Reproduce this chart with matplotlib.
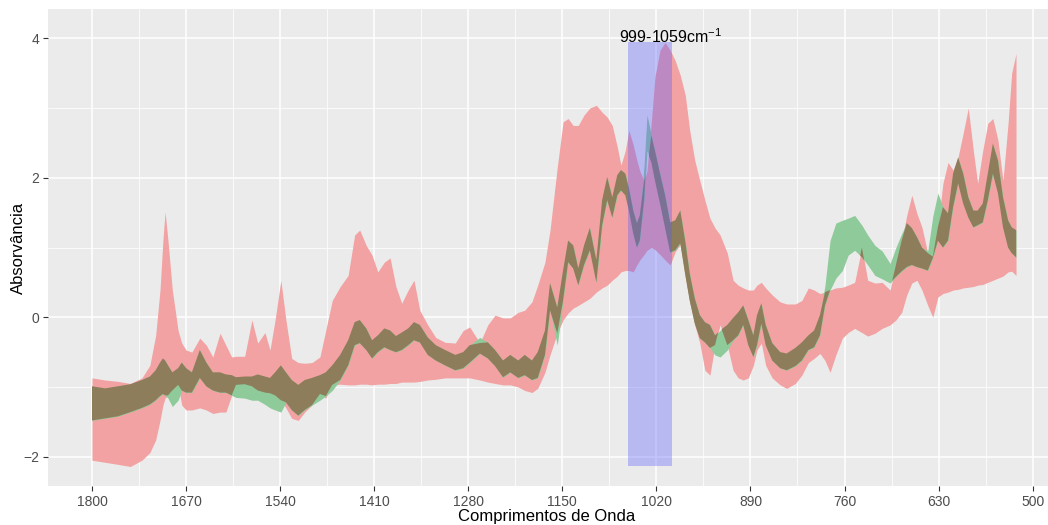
import numpy as np
import matplotlib
matplotlib.use("Agg")
import matplotlib.pyplot as plt

plt.rcParams['font.family'] = ['Liberation Sans', 'DejaVu Sans']
plt.rcParams['mathtext.default'] = 'regular'

# wavenumbers (cm-1)
wavenumber = [1800, 1782, 1764, 1747, 1731, 1720, 1712, 1706, 1702, 1699,
              1695, 1689, 1681, 1676, 1670, 1662, 1651, 1642, 1633, 1623,
              1615, 1607, 1601, 1589, 1579, 1571, 1561, 1554, 1547, 1539,
              1532, 1524, 1515, 1506, 1496, 1485, 1477, 1468, 1457, 1446,
              1437, 1430, 1421, 1413, 1405, 1396, 1388, 1380, 1372, 1363,
              1355, 1347, 1336, 1325, 1312, 1298, 1287, 1278, 1264, 1253,
              1243, 1232, 1222, 1211, 1202, 1192, 1184, 1174, 1167, 1157,
              1149, 1142, 1135, 1128, 1120, 1112, 1103, 1095, 1088, 1081,
              1074, 1069, 1063, 1058, 1052, 1047, 1043, 1037, 1033, 1027,
              1022, 1015, 1008, 1001, 994, 987, 980, 974, 967, 960,
              953, 946, 939, 932, 922, 914, 907, 900, 893, 886,
              881, 875, 869, 860, 849, 840, 828, 819, 810, 802,
              794, 787, 780, 772, 763, 755, 746, 736, 728, 718,
              708, 697, 689, 681, 674, 667, 660, 653, 645, 638,
              631, 624, 617, 610, 603, 596, 589, 582, 576, 569,
              562, 555, 548, 541, 534, 529, 523]

# red ribbon (lower / upper)
red_hi = [-0.87, -0.90, -0.92, -0.95, -0.87, -0.69, -0.26, 0.39, 1.10, 1.51,
          1.10, 0.39, -0.19, -0.37, -0.47, -0.50, -0.30, -0.40, -0.57, -0.23,
          -0.40, -0.57, -0.56, -0.56, -0.04, -0.37, -0.22, -0.47, -0.04, 0.53,
          -0.04, -0.59, -0.65, -0.66, -0.65, -0.57, -0.19, 0.24, 0.44, 0.60,
          1.18, 1.25, 1.03, 0.89, 0.65, 0.79, 0.85, 0.44, 0.20, 0.39,
          0.53, 0.10, -0.11, -0.29, -0.36, -0.37, -0.19, -0.14, -0.37, -0.11,
          0.03, -0.01, -0.01, 0.07, 0.10, 0.22, 0.46, 0.79, 1.25, 2.15,
          2.80, 2.85, 2.75, 2.75, 2.90, 3.00, 3.04, 2.94, 2.87, 2.75,
          2.44, 2.18, 2.39, 2.68, 2.47, 2.25, 2.10, 1.95, 2.10, 2.80,
          3.45, 3.83, 3.94, 3.83, 3.68, 3.47, 3.18, 2.68, 2.25, 1.96,
          1.68, 1.42, 1.28, 1.18, 0.92, 0.53, 0.46, 0.42, 0.39, 0.39,
          0.46, 0.50, 0.42, 0.32, 0.22, 0.19, 0.19, 0.24, 0.42, 0.39,
          0.34, 0.36, 0.39, 0.42, 0.43, 0.46, 0.50, 1.00, 0.53, 0.49,
          0.50, 0.39, 0.75, 1.10, 1.46, 1.75, 1.49, 1.29, 0.92, 0.87,
          1.29, 1.92, 2.22, 2.11, 2.30, 2.64, 3.00, 2.39, 1.92, 2.39,
          2.78, 2.85, 2.54, 1.96, 2.78, 3.50, 3.78]
red_lo = [-2.05, -2.08, -2.11, -2.14, -2.05, -1.94, -1.76, -1.48, -1.26, -1.16,
          -1.12, -1.05, -0.97, -1.26, -1.33, -1.33, -1.30, -1.33, -1.38, -1.36,
          -1.36, -1.12, -0.97, -0.96, -0.99, -1.05, -1.08, -1.09, -1.12, -1.19,
          -1.30, -1.45, -1.48, -1.36, -1.26, -1.10, -1.16, -0.97, -0.96, -0.97,
          -0.97, -0.96, -0.96, -0.97, -0.96, -0.96, -0.95, -0.95, -0.93, -0.93,
          -0.93, -0.92, -0.90, -0.89, -0.87, -0.87, -0.87, -0.87, -0.90, -0.93,
          -0.95, -0.97, -0.97, -1.00, -1.05, -1.08, -1.02, -0.79, -0.54, -0.23,
          -0.04, 0.06, 0.13, 0.17, 0.22, 0.27, 0.36, 0.42, 0.46, 0.53,
          0.59, 0.65, 0.67, 0.67, 0.65, 0.75, 0.82, 0.90, 0.96, 1.00,
          0.97, 0.90, 0.82, 0.75, 0.94, 1.04, 0.58, 0.22, -0.11, -0.37,
          -0.76, -0.83, -0.40, -0.11, -0.40, -0.76, -0.87, -0.90, -0.87, -0.69,
          -0.47, -0.37, -0.69, -0.87, -0.97, -1.02, -0.95, -0.83, -0.65, -0.59,
          -0.52, -0.62, -0.79, -0.54, -0.30, -0.22, -0.16, -0.22, -0.27, -0.23,
          -0.16, -0.11, -0.04, 0.07, 0.32, 0.49, 0.53, 0.39, 0.17, 0.00,
          0.29, 0.34, 0.36, 0.39, 0.40, 0.42, 0.43, 0.44, 0.46, 0.47,
          0.50, 0.53, 0.56, 0.59, 0.65, 0.66, 0.60]

# green ribbon (lower / upper)
green_hi = [-0.99, -1.02, -0.99, -0.96, -0.90, -0.85, -0.76, -0.65, -0.59, -0.62,
            -0.69, -0.79, -0.73, -0.65, -0.73, -0.79, -0.47, -0.65, -0.79, -0.79,
            -0.82, -0.83, -0.86, -0.85, -0.85, -0.82, -0.85, -0.87, -0.79, -0.69,
            -0.79, -0.90, -0.97, -0.90, -0.87, -0.83, -0.79, -0.69, -0.54, -0.33,
            -0.07, -0.04, -0.16, -0.33, -0.26, -0.16, -0.19, -0.27, -0.22, -0.16,
            -0.07, -0.11, -0.29, -0.40, -0.47, -0.54, -0.50, -0.40, -0.29, -0.36,
            -0.47, -0.62, -0.54, -0.62, -0.54, -0.62, -0.50, -0.19, 0.49, 0.14,
            0.67, 1.10, 1.03, 0.70, 1.03, 1.28, 0.82, 1.68, 2.01, 1.72,
            2.04, 2.11, 2.06, 1.85, 1.53, 1.35, 1.46, 2.18, 2.90, 2.61,
            2.39, 2.06, 1.75, 1.36, 1.39, 1.53, 1.08, 0.63, 0.27, 0.03,
            -0.07, -0.11, -0.26, -0.19, -0.11, -0.01, 0.07, 0.17, -0.04, -0.26,
            0.03, 0.20, -0.11, -0.37, -0.50, -0.52, -0.44, -0.36, -0.26, -0.19,
            0.03, 0.46, 1.10, 1.35, 1.39, 1.42, 1.46, 1.32, 1.18, 1.03,
            0.95, 0.77, 1.00, 1.20, 1.35, 1.28, 1.15, 1.00, 0.95, 1.45,
            1.78, 1.58, 1.49, 2.06, 2.29, 2.06, 1.72, 1.53, 1.53, 1.63,
            2.06, 2.49, 2.25, 1.72, 1.39, 1.29, 1.25]
green_lo = [-1.48, -1.45, -1.42, -1.36, -1.30, -1.25, -1.19, -1.13, -1.10, -1.12,
            -1.16, -1.28, -1.19, -1.05, -1.08, -1.08, -0.87, -0.99, -1.05, -1.08,
            -1.08, -1.12, -1.15, -1.16, -1.19, -1.19, -1.25, -1.30, -1.33, -1.36,
            -1.22, -1.33, -1.41, -1.33, -1.26, -1.19, -1.13, -1.05, -0.90, -0.69,
            -0.40, -0.37, -0.47, -0.59, -0.50, -0.43, -0.47, -0.50, -0.47, -0.40,
            -0.33, -0.36, -0.54, -0.62, -0.69, -0.76, -0.73, -0.65, -0.52, -0.59,
            -0.70, -0.86, -0.79, -0.87, -0.83, -0.90, -0.87, -0.54, 0.10, -0.40,
            0.24, 0.79, 0.70, 0.46, 0.75, 0.96, 0.50, 1.32, 1.68, 1.43,
            1.75, 1.82, 1.75, 1.53, 1.20, 1.00, 1.10, 1.68, 2.39, 2.22,
            1.96, 1.63, 1.28, 0.93, 0.96, 1.06, 0.60, 0.24, -0.09, -0.30,
            -0.36, -0.44, -0.54, -0.57, -0.47, -0.33, -0.26, -0.11, -0.40, -0.57,
            -0.40, -0.09, -0.40, -0.62, -0.73, -0.76, -0.70, -0.62, -0.47, -0.43,
            -0.26, 0.17, 0.39, 0.56, 0.67, 0.89, 0.96, 0.86, 0.75, 0.60,
            0.55, 0.49, 0.58, 0.66, 0.72, 0.75, 0.72, 0.70, 0.67, 0.85,
            1.10, 1.00, 1.10, 1.58, 1.92, 1.63, 1.43, 1.29, 1.32, 1.36,
            1.68, 2.06, 1.78, 1.29, 1.00, 0.92, 0.86]

band_x = [1059, 999]
band_label = '999-1059cm$^{-1}$'

x_ticks = [1800, 1670, 1540, 1410, 1280, 1150, 1020, 890, 760, 630, 500]
y_ticks = [-2, 0, 2, 4]

x = np.array(wavenumber, dtype=float)
r_lo, r_hi = np.array(red_lo), np.array(red_hi)
g_lo, g_hi = np.array(green_lo), np.array(green_hi)

fig = plt.figure(figsize=(10.48, 5.25), dpi=100)
ax = fig.add_axes([48 / 1048, 39 / 525, 1000 / 1048, 477 / 525])
ax.set_facecolor('#EBEBEB')
for s in ax.spines.values():
    s.set_visible(False)

pink = '#F2A2A2'
green = '#8FCA9A'
brown = '#8D7D5B'

ax.fill_between(x, r_lo, r_hi, color=pink, lw=0, zorder=2)
ax.fill_between(x, g_lo, g_hi, color=green, lw=0, zorder=3)
ov_lo = np.maximum(r_lo, g_lo)
ov_hi = np.minimum(r_hi, g_hi)
ax.fill_between(x, ov_lo, ov_hi, where=ov_hi > ov_lo, interpolate=True,
                color=brown, lw=0, zorder=4)

# highlighted band
y0 = min(r_lo.min(), g_lo.min())
y1 = max(r_hi.max(), g_hi.max())
ax.fill_between(band_x, y0, y1, color='#5C5CFF', alpha=0.35, lw=0, zorder=5)
ax.text(np.mean(band_x) - 29, 4.03, band_label, ha='center', va='center',
        fontsize=11.5, color='black', zorder=6)

ax.set_xlim(1860.8, 478.8)
ax.set_ylim(-2.42, 4.42)
ax.set_xticks(x_ticks)
ax.set_yticks(y_ticks)
ax.set_xticks([t - 65 for t in x_ticks[:-1]], minor=True)
ax.set_yticks([-1, 1, 3], minor=True)
ax.grid(which='major', color='white', linewidth=1.1, zorder=0)
ax.grid(which='minor', color='white', linewidth=0.55, zorder=0)
ax.set_axisbelow(True)
ax.tick_params(which='major', length=3.5, width=0.8, color='#333333',
               labelcolor='#4D4D4D', labelsize=10, pad=3)
ax.tick_params(which='minor', length=0)

fig.text(547 / 1048, 1 - 517 / 525, 'Comprimentos de Onda', ha='center',
         va='center', fontsize=12)
fig.text(18 / 1048, 1 - 248 / 525, 'Absorvância', ha='center', va='center',
         rotation=90, fontsize=12)

fig.savefig('out.png', dpi=100)
